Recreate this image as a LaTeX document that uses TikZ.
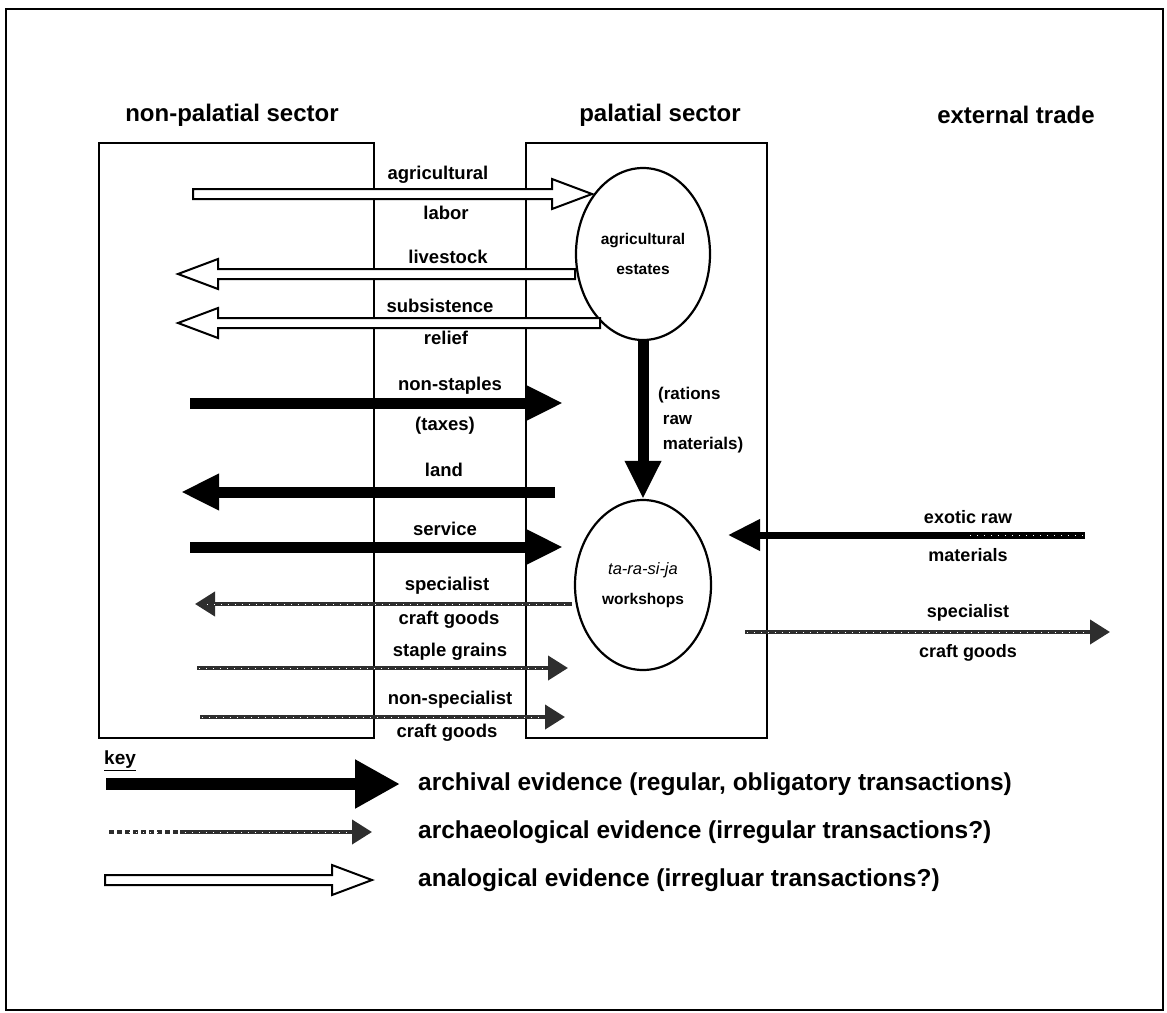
\documentclass[tikz,border=0pt]{standalone}
\usepackage{fontspec}
\setmainfont{Liberation Sans}
\usetikzlibrary{arrows.meta,calc,shapes.geometric}
\newcommand\hollowR[2]{\draw[hollow] ($(#1)+(0,-5)$) -- ($(#2)+(-40,-5)$) -- ($(#2)+(-40,-15)$) -- (#2) -- ($(#2)+(-40,15)$) -- ($(#2)+(-40,5)$) -- ($(#1)+(0,5)$) -- cycle;}
\newcommand\hollowL[2]{\draw[hollow] ($(#1)+(0,-5)$) -- ($(#2)+(40,-5)$) -- ($(#2)+(40,-15)$) -- (#2) -- ($(#2)+(40,15)$) -- ($(#2)+(40,5)$) -- ($(#1)+(0,5)$) -- cycle;}
\begin{document}
\begin{tikzpicture}[x=1pt,y=-1pt,
  hdr/.style={font=\fontsize{24}{27}\selectfont\bfseries, inner sep=0pt},
  lbl/.style={font=\fontsize{18.5}{20}\selectfont\bfseries, inner sep=0pt},
  rlbl/.style={font=\fontsize{18}{20}\selectfont\bfseries, inner sep=0pt},
  keytxt/.style={font=\fontsize{24.5}{27}\selectfont\bfseries, anchor=west, inner sep=0pt},
  sector/.style={draw, line width=1.8pt},
  ring/.style={draw, line width=2.2pt, ellipse, inner sep=0pt, align=center, font=\fontsize{15.5}{30}\selectfont\bfseries},
  hollow/.style={draw, line width=2pt, fill=white, line join=miter},
  archival/.style={line width=11pt, -{Triangle[length=38pt,width=34pt]}},
  archaeo/.style={line width=4pt, black!82, -{Triangle[length=20pt,width=24pt]}},
  grain/.style={white, line width=1pt, dash pattern=on 1pt off 6pt},
]
\useasboundingbox (0,0) rectangle (1167,1012);
\draw[line width=2.5pt] (6,9) rectangle (1163,1010);

% headers
\node[hdr] (hnon) at (232,115) {non-palatial sector};
\node[hdr] (hpal) at (660,115) {palatial sector};
\node[hdr] (hext) at (1016,115) {external trade};

% sector boxes
\draw[sector] (99,143) rectangle (374,738);
\draw[sector] (526,143) rectangle (767,738);

% circles
\node[ring, minimum width=134pt, minimum height=172pt] (est) at (643,254) {agricultural\\estates};
\node[ring, minimum width=136pt, minimum height=170pt] (ws) at (643,585) {{\mdseries\itshape\fontsize{16.5}{30}\selectfont ta-ra-si-ja}\\workshops};

% coordinates
\coordinate (a1s) at (193,194); \coordinate (a1t) at (592,194);
\coordinate (a2s) at (575,274); \coordinate (a2t) at (178,274);
\coordinate (a3s) at (600,323); \coordinate (a3t) at (178,323);
\coordinate (a4s) at (190,403); \coordinate (a4t) at (563,403);
\coordinate (a5s) at (555,492); \coordinate (a5t) at (181,492);
\coordinate (a6s) at (190,547); \coordinate (a6t) at (563,547);
\coordinate (a7s) at (572,604); \coordinate (a7t) at (195,604);
\coordinate (a8s) at (197,668); \coordinate (a8t) at (568,668);
\coordinate (a9s) at (200,717); \coordinate (a9t) at (565,717);
\coordinate (exs) at (1085,535); \coordinate (ext) at (728,535);
\coordinate (sps) at (745,632); \coordinate (spt) at (1110,632);

% hollow arrows
\hollowR{a1s}{a1t}
\hollowL{a2s}{a2t}
\hollowL{a3s}{a3t}

% archival arrows
\draw[archival] (a4s) -- (a4t);
\draw[archival] (a5s) -- (a5t);
\draw[archival] (a6s) -- (a6t);
\draw[archival] (est.south) -- (ws.north);
\draw[line width=7pt, -{Triangle[length=32pt,width=30pt]}] (exs) -- (ext);
\draw[grain] ($(exs)+(-2,0)$) -- ($(exs)+(-120,0)$);

% archaeological arrows
\draw[archaeo] (a7s) -- (a7t);
\draw[archaeo] (a8s) -- (a8t);
\draw[archaeo] (a9s) -- (a9t);
\draw[archaeo] (sps) -- (spt);
\draw[grain] ($(a7t)+(12,0)$) -- ($(a7s)+(-2,0)$);
\draw[grain] ($(a8s)+(2,0)$) -- ($(a8t)+(-22,0)$);
\draw[grain] ($(a9s)+(2,0)$) -- ($(a9t)+(-22,0)$);
\draw[grain] ($(sps)+(2,0)$) -- ($(spt)+(-22,0)$);

% labels
\node[lbl] (l1a) at (438,175) {agricultural};
\node[lbl] (l1b) at (446,213) {labor};
\node[lbl] (l2) at (448,257) {livestock};
\node[lbl] (l3a) at (440,306) {subsistence};
\node[lbl] (l3b) at (446,338) {relief};
\node[lbl] (l4a) at (450,386) {non-staples};
\node[lbl] (l4b) at (445,426) {(taxes)};
\node[lbl] (l5) at (444,470) {land};
\node[lbl] (l6) at (445,529) {service};
\node[lbl] (l7a) at (447,586) {specialist};
\node[lbl] (l7b) at (449,620) {craft goods};
\node[lbl] (l8) at (450,652) {staple grains};
\node[lbl] (l9a) at (450,700) {non-specialist};
\node[lbl] (l9b) at (447,733) {craft goods};
\node[lbl, anchor=west, align=left, font=\fontsize{17}{25}\selectfont\bfseries] (lr) at (658,420) {(rations\\\ raw\\\ materials)};
\node[rlbl] (lex1) at (968,517) {exotic raw};
\node[rlbl] (lex2) at (968,555) {materials};
\node[rlbl] (lsp1) at (968,613) {specialist};
\node[rlbl] (lsp2) at (968,653) {craft goods};

% key
\node[keytxt, font=\fontsize{19}{22}\selectfont\bfseries] (key) at (104,761) {\underline{key}};
\coordinate (k1s) at (106,784); \coordinate (k1t) at (400,784);
\coordinate (k2s) at (106,832); \coordinate (k2t) at (372,832);
\coordinate (k3s) at (105,880); \coordinate (k3t) at (372,880);
\draw[line width=12pt, -{Triangle[length=45pt,width=46pt]}] (k1s) -- (k1t);
\draw[archaeo] (k2s) -- (k2t);
\draw[grain] ($(k2s)+(2,0)$) -- ($(k2t)+(-22,0)$);
\draw[white, line width=4.5pt, dash pattern=on 3pt off 5pt] (106,832) -- (180,832);
\hollowR{k3s}{k3t}
\node[keytxt] (t1) at (418,784) {archival evidence (regular, obligatory transactions)};
\node[keytxt] (t2) at (418,832) {archaeological evidence (irregular transactions?)};
\node[keytxt] (t3) at (418,880) {analogical evidence (irregluar transactions?)};
\end{tikzpicture}
\end{document}
